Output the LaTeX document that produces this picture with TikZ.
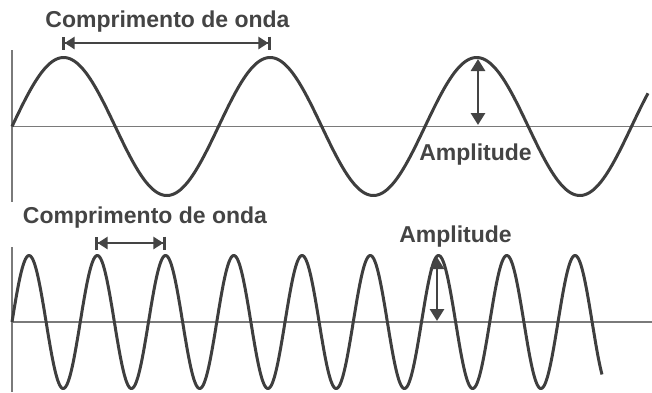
\documentclass[tikz,border=0pt]{standalone}
\usepackage{fontspec}
\setmainfont{Liberation Sans}
\usetikzlibrary{arrows.meta}
\definecolor{wave}{HTML}{3E3E3E}
\definecolor{axisgray}{HTML}{7A7A7A}
\definecolor{txt}{HTML}{444444}
\tikzset{
  wavecurve/.style={draw=wave, line width=3pt, line join=round},
  axisline/.style={draw=axisgray, line width=1.5pt},
  label/.style={font=\fontsize{23}{27}\selectfont\bfseries, text=txt, inner sep=0pt},
  spanarrow/.style={draw=txt, line width=2.8pt,
     {Bar[width=13pt,line width=2.6pt]Triangle[length=10pt,width=12pt]}-{Triangle[length=10pt,width=12pt]Bar[width=13pt,line width=2.6pt]}},
  amparrow/.style={draw=txt, line width=2.8pt,
     {Triangle[length=12pt,width=14pt]}-{Triangle[length=12pt,width=14pt]}}
}
\begin{document}
\begin{tikzpicture}[x=1pt,y=-1pt]
\useasboundingbox (0,0) rectangle (652,392);
% top axes
\draw[axisline] (12,50) -- (12,202);
\draw[axisline] (12,126.5) -- (652,126.5);
% top wave
\draw[wavecurve] plot[domain=12:648, samples=500] (\x,{126.5-69*sin(((\x-12)/206.5)*360)});
% bottom axes
\draw[axisline] (12,247) -- (12,392);
\draw[axisline] (12,322) -- (652,322);
% bottom wave
\draw[wavecurve] plot[domain=12:602, samples=700] (\x,{322-66.5*sin(((\x-12)/68.25)*360)});
% labels
\node[label] (t1) at (167.5,22) {Comprimento de onda};
\node[label] (a1) at (475.5,155) {Amplitude};
\node[label] (t2) at (145,218) {Comprimento de onda};
\node[label] (a2) at (455.5,237) {Amplitude};
% arrows
\coordinate (w1a) at (62,43);
\coordinate (w1b) at (271,43);
\coordinate (p1a) at (478,59);
\coordinate (p1b) at (478,125);
\coordinate (w2a) at (95,243);
\coordinate (w2b) at (166,243);
\coordinate (p2a) at (437,257);
\coordinate (p2b) at (437,321);
\draw[spanarrow] (w1a) -- (w1b);
\draw[spanarrow] (w2a) -- (w2b);
\draw[amparrow] (p1a) -- (p1b);
\draw[amparrow] (p2a) -- (p2b);
\end{tikzpicture}
\end{document}
